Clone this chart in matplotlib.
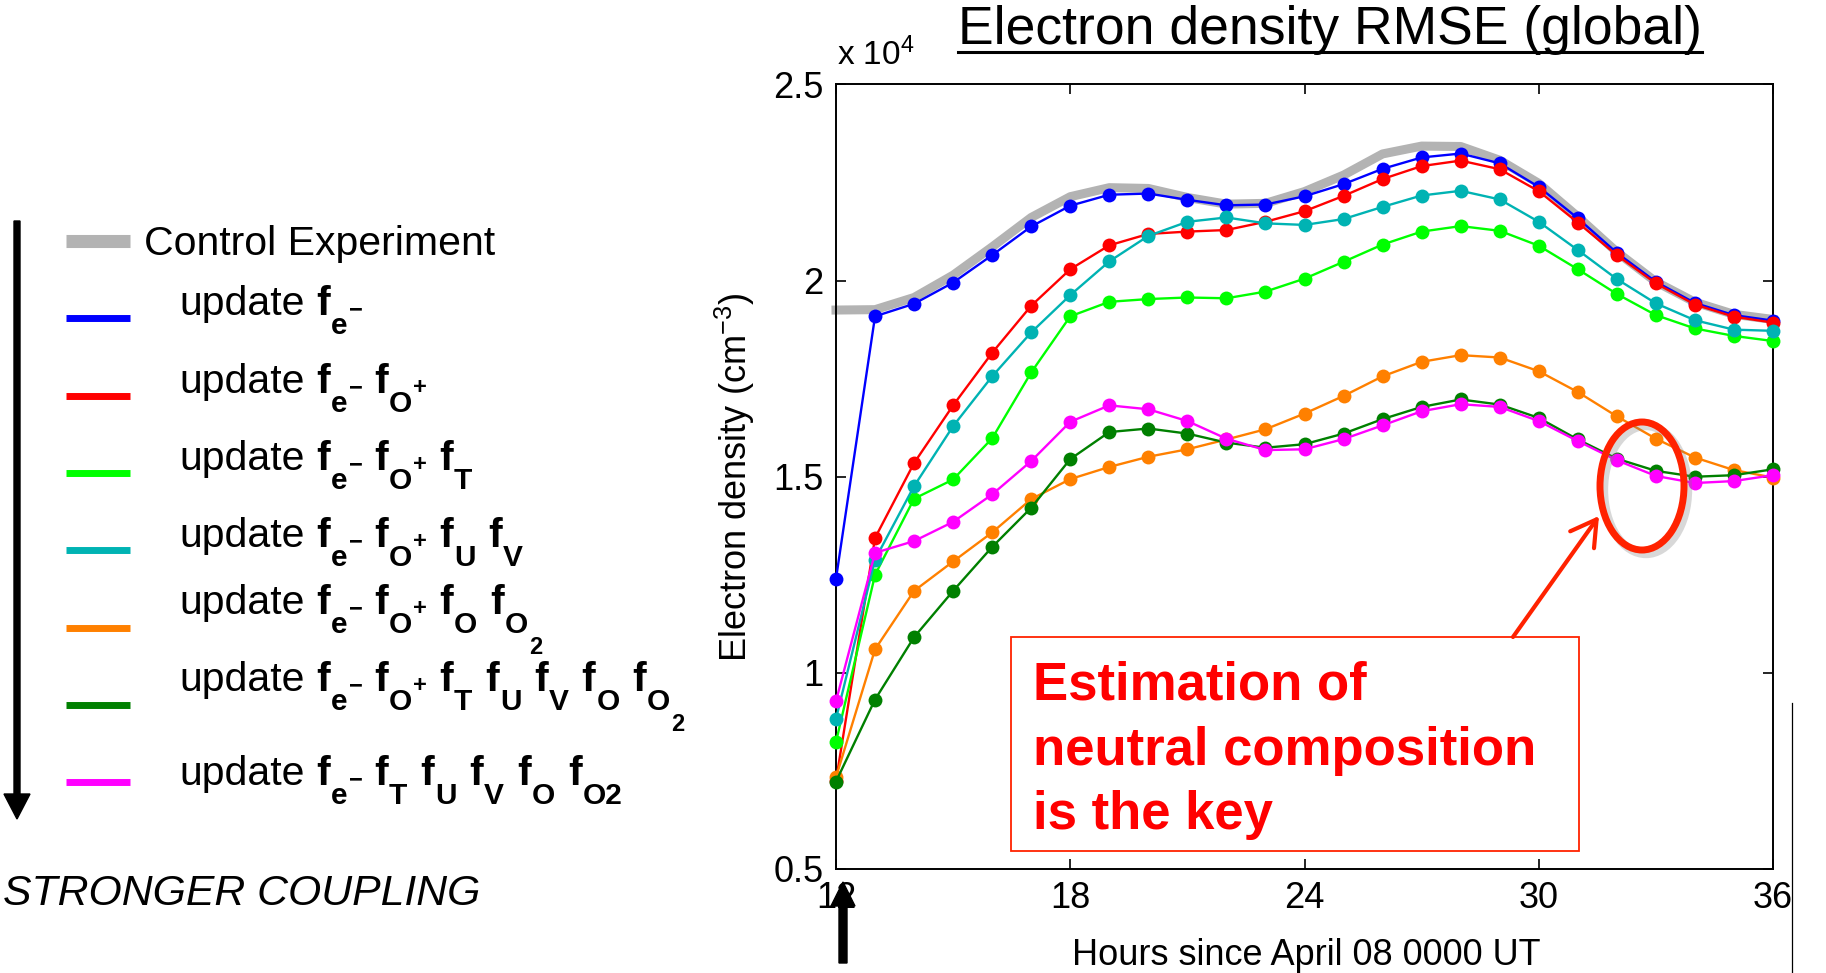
import matplotlib
matplotlib.use("Agg")
import matplotlib.pyplot as plt
from matplotlib.patches import Ellipse, Rectangle, FancyArrow

plt.rcParams["font.family"] = ["Liberation Sans", "DejaVu Sans"]
plt.rcParams["mathtext.fontset"] = "custom"
plt.rcParams["mathtext.rm"] = "Liberation Sans"
plt.rcParams["mathtext.it"] = "Liberation Sans:italic"
plt.rcParams["mathtext.bf"] = "Liberation Sans:bold"

# hours since April 08 0000 UT
hours = list(range(12, 37))

# electron density RMSE, units of 10^4 cm^-3
control = [1.925, 1.926, 1.957, 2.014, 2.086, 2.161, 2.214, 2.237, 2.235, 2.212, 2.195, 2.197, 2.227,
           2.269, 2.323, 2.343, 2.342, 2.307, 2.248, 2.163, 2.073, 1.997, 1.945, 1.914, 1.901]
upd_e = [1.240, 1.909, 1.941, 1.995, 2.065, 2.138, 2.191, 2.219, 2.222, 2.206, 2.192, 2.194, 2.215,
         2.246, 2.285, 2.314, 2.324, 2.299, 2.239, 2.159, 2.071, 1.997, 1.943, 1.912, 1.898]
upd_eO = [0.725, 1.344, 1.535, 1.682, 1.816, 1.936, 2.029, 2.090, 2.119, 2.125, 2.129, 2.150, 2.177,
          2.216, 2.259, 2.292, 2.306, 2.284, 2.228, 2.148, 2.065, 1.993, 1.939, 1.908, 1.893]
upd_eOT = [0.824, 1.250, 1.444, 1.493, 1.598, 1.766, 1.909, 1.946, 1.953, 1.957, 1.955, 1.972, 2.005,
           2.048, 2.092, 2.125, 2.139, 2.127, 2.089, 2.029, 1.966, 1.912, 1.878, 1.859, 1.846]
upd_eOUV = [0.883, 1.289, 1.476, 1.629, 1.756, 1.868, 1.963, 2.049, 2.114, 2.150, 2.161, 2.146, 2.142,
            2.157, 2.188, 2.217, 2.229, 2.207, 2.150, 2.078, 2.004, 1.942, 1.899, 1.875, 1.872]
upd_eOOO2 = [0.734, 1.060, 1.209, 1.284, 1.358, 1.443, 1.494, 1.525, 1.551, 1.570, 1.595, 1.621, 1.661,
             1.706, 1.756, 1.793, 1.810, 1.804, 1.769, 1.716, 1.654, 1.597, 1.549, 1.517, 1.498]
upd_all = [0.723, 0.932, 1.091, 1.209, 1.321, 1.421, 1.545, 1.614, 1.623, 1.610, 1.587, 1.574, 1.583,
           1.610, 1.647, 1.678, 1.697, 1.684, 1.650, 1.595, 1.546, 1.515, 1.500, 1.504, 1.519]
upd_noOp = [0.928, 1.306, 1.336, 1.385, 1.455, 1.540, 1.640, 1.682, 1.672, 1.642, 1.597, 1.568, 1.570,
            1.596, 1.631, 1.667, 1.685, 1.678, 1.642, 1.591, 1.542, 1.502, 1.484, 1.489, 1.504]

seriesValues = [upd_e, upd_eO, upd_eOT, upd_eOUV, upd_eOOO2, upd_all, upd_noOp]
seriesColors = ["#0000ff", "#ff0000", "#00ff00", "#00b3b3", "#ff8000", "#008000", "#ff00ff"]
controlColor = "#b3b3b3"

# legend terms: (subscript, superscript on subscript, second-level subscript)
MINUS = "\u2212"
tE = ("e", MINUS, None)
tOp = ("O", "+", None)
tT = ("T", None, None)
tU = ("U", None, None)
tV = ("V", None, None)
tO = ("O", None, None)
tO2 = ("O", None, "2")
tO2b = ("O2", None, None)
seriesTerms = [
    [tE],
    [tE, tOp],
    [tE, tOp, tT],
    [tE, tOp, tU, tV],
    [tE, tOp, tO, tO2],
    [tE, tOp, tT, tU, tV, tO, tO2],
    [tE, tT, tU, tV, tO, tO2b],
]

xTicks = [12, 18, 24, 30, 36]
yTicks = [0.5, 1, 1.5, 2, 2.5]
yTickLabels = ["0.5", "1", "1.5", "2", "2.5"]

W, H = 1826, 973
fig = plt.figure(figsize=(W / 100, H / 100), dpi=100)
fig.patch.set_facecolor("white")

# main axes, placed in pixels
axL, axR, axT, axB = 836, 1773, 84.5, 869
ax = fig.add_axes([axL / W, 1 - axB / H, (axR - axL) / W, (axB - axT) / H])

ax.plot(hours, control, color=controlColor, linewidth=6.5, clip_on=False, zorder=2)
for values, color in zip(seriesValues, seriesColors):
    ax.plot(hours, values, color=color, linewidth=1.7, marker="o", markersize=10,
            markeredgewidth=0, clip_on=False, zorder=3)

ax.set_xlim(12, 36)
ax.set_ylim(0.5, 2.5)
ax.set_xticks(xTicks)
ax.set_yticks(yTicks)
ax.set_yticklabels(yTickLabels)
ax.tick_params(direction="in", length=7.5, width=1.2, labelsize=26, pad=9,
               top=True, right=True)
for spine in ax.spines.values():
    spine.set_linewidth(1.4)

# overlay in pixel units for the slide decorations
ov = fig.add_axes([0, 0, 1, 1], zorder=5)
ov.set_xlim(0, W)
ov.set_ylim(H, 0)
ov.axis("off")
ov.patch.set_alpha(0)
renderer = fig.canvas.get_renderer()


def textWidth(t):
    return t.get_window_extent(renderer=renderer).width


title = ov.text(1330, 44, "Electron density RMSE (global)", fontsize=38.5, ha="center", va="baseline")
ov.text(837, 65, r"x 10$^4$", fontsize=24, ha="left", va="baseline")
ov.text(735, 477, r"Electron density (cm$^{-3}$)", fontsize=26, rotation=90, ha="center", va="center")
ov.text(1306, 965, "Hours since April 08 0000 UT", fontsize=26, ha="center", va="baseline")

# clipped right edge of the slide
ov.add_patch(Rectangle((1793, 690), 40, 290, facecolor="white", edgecolor="none"))
ov.plot([1792, 1792], [703, 973], color="black", linewidth=0.9)

# arrow under the first hour
ov.add_patch(FancyArrow(843, 963, 0, -81, width=8, head_width=24, head_length=24,
                        length_includes_head=True, color="black"))

# annotation box, arrow and ellipse
annoColor = "#ff2200"
ov.add_patch(Rectangle((1011, 637), 568, 214, facecolor="white", edgecolor=annoColor, linewidth=1.3))
for i, line in enumerate(["Estimation of", "neutral composition", "is the key"]):
    ov.text(1033, 700 + 64.5 * i, line, fontsize=38, fontweight="bold", color="#ff0000",
            ha="left", va="baseline")
ov.annotate("", xy=(1599, 516), xytext=(1513, 637),
            arrowprops=dict(arrowstyle="->,head_length=0.6,head_width=0.35", color=annoColor,
                            lw=3, mutation_scale=30, shrinkA=0, shrinkB=0))
ov.add_patch(Ellipse((1646, 490), 84, 128, fill=False, edgecolor="#808080", alpha=0.3, linewidth=6))
ov.add_patch(Ellipse((1642, 486), 84, 128, fill=False, edgecolor=annoColor, linewidth=5))

# legend on the left
ov.add_patch(FancyArrow(17, 221, 0, 598, width=6, head_width=26, head_length=25,
                        length_includes_head=True, color="black"))
ov.plot([66, 130], [241, 241], color=controlColor, linewidth=9.4, solid_capstyle="butt")
ov.text(144, 255, "Control Experiment", fontsize=29.5, ha="left", va="baseline")


def drawLabel(x, y, terms):
    t = ov.text(x, y, "update", fontsize=29.5, va="baseline")
    x += textWidth(t) + 12
    for sub, sup, sub2 in terms:
        t = ov.text(x, y, "f", fontsize=29.5, fontweight="bold", va="baseline")
        x += textWidth(t) + 1
        t = ov.text(x, y + 19, sub, fontsize=21.5, fontweight="bold", va="baseline")
        x += textWidth(t) + 1
        if sup:
            t = ov.text(x, y + 1, sup, fontsize=17, fontweight="bold", va="baseline")
            x += textWidth(t)
        if sub2:
            t = ov.text(x, y + 40, sub2, fontsize=17, fontweight="bold", va="baseline")
            x += textWidth(t)
        x += 12


lineRows = [318, 396, 473, 550, 628, 705, 782]
textRows = [315, 393, 470, 547, 614, 691, 785]
for terms, color, ly, ty in zip(seriesTerms, seriesColors, lineRows, textRows):
    ov.plot([66, 130], [ly, ly], color=color, linewidth=5, solid_capstyle="butt")
    drawLabel(179, ty, terms)
ov.text(3, 905, "STRONGER COUPLING", fontsize=30.8, fontstyle="italic", ha="left", va="baseline")

# underline the title
bb = title.get_window_extent(renderer=renderer)
ov.plot([bb.x0, bb.x1], [52, 52], color="black", linewidth=2.2)

fig.savefig("out.png", dpi=100, facecolor="white")
